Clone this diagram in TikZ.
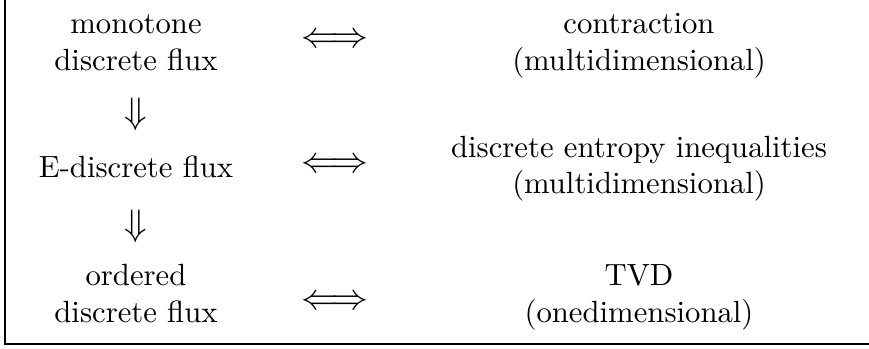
\documentclass[tikz,border=0pt]{standalone}
\usepackage{amsmath}
\usepackage{tikz}
\tikzstyle{statement} = [align=center, inner sep=0pt]
\tikzstyle{equivalence} = [inner sep=0pt, font=\large]
\tikzstyle{implication} = [inner sep=0pt, font=\large]
\tikzstyle{frameline} = [line width=0.4pt]

\begin{document}
\begin{tikzpicture}[x=0.3257pt, y=-0.3257pt]
        \useasboundingbox (0,0) rectangle (869,349);
        \node (mono) [statement] at (136,42.6) {monotone\\discrete flux};
        \node (edisc) [statement] at (136,166.4) {E-discrete flux};
        \node (ordered) [statement] at (136,293.9) {ordered\\discrete flux};
        \node (contr) [statement] at (639,45.6) {contraction\\(multidimensional)};
        \node (entropy) [statement] at (639,168.7) {discrete entropy inequalities\\(multidimensional)};
        \node (tvd) [statement] at (639,297.3) {TVD\\(onedimensional)};
        \node (eq-mono) [equivalence] at (335,40.5) {$\Longleftrightarrow$};
        \node (eq-edisc) [equivalence] at (335,166) {$\Longleftrightarrow$};
        \node (eq-ordered) [equivalence] at (335,303) {$\Longleftrightarrow$};
        \node (imp-mono) [implication] at (136,114) {$\Downarrow$};
        \node (imp-edisc) [implication] at (136,226.5) {$\Downarrow$};
        \coordinate (frame-top) at (5,0);
        \coordinate (frame-corner) at (5,344);
        \coordinate (frame-end) at (869,344);
        \draw [frameline] (frame-top) -- (frame-corner) -- (frame-end);
    \end{tikzpicture}
\end{document}
